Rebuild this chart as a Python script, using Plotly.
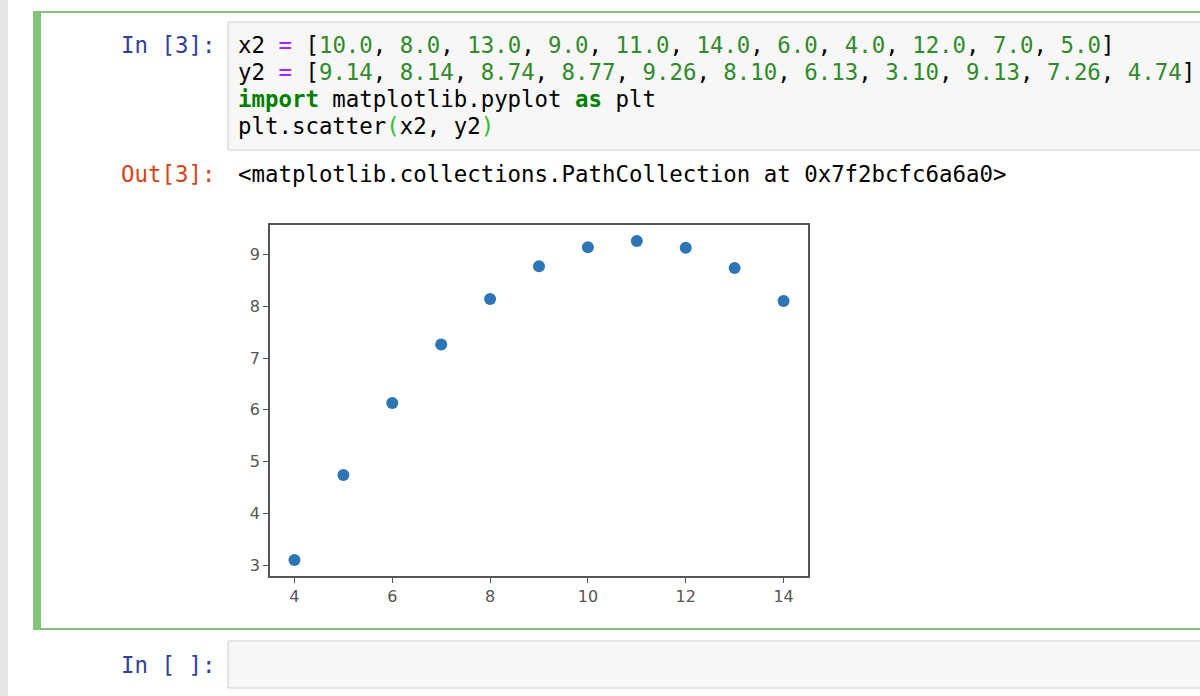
import plotly.graph_objects as go

# ---- data ----
x2 = [10.0, 8.0, 13.0, 9.0, 11.0, 14.0, 6.0, 4.0, 12.0, 7.0, 5.0]
y2 = [9.14, 8.14, 8.74, 8.77, 9.26, 8.10, 6.13, 3.10, 9.13, 7.26, 4.74]
x_ticks = [4, 6, 8, 10, 12, 14]
y_ticks = [3, 4, 5, 6, 7, 8, 9]
out_text = "&lt;matplotlib.collections.PathCollection at 0x7f2bcfc6a6a0&gt;"

W, H = 1200, 696


def px(x):
    return x / W


def py(y):
    return 1 - y / H


NUM = "#2f8a2a"
OP = "#AA22FF"
KW = "#008000"
BR = "#2fbf2f"
PROMPT_IN = "#303F9F"
PROMPT_OUT = "#D84315"
MONO = "DejaVu Sans Mono"
FS = 22.4


def num(v):
    return f'<span style="color:{NUM}">{v}</span>'


line1 = ('x2 <span style="color:%s">=</span> [' % OP
         + ", ".join(num(f"{v:.1f}") for v in x2) + "]")
line2 = ('y2 <span style="color:%s">=</span> [' % OP
         + ", ".join(num(f"{v:.2f}") for v in y2) + "]")
line3 = (f'<b><span style="color:{KW}">import</span></b> matplotlib.pyplot '
         f'<b><span style="color:{KW}">as</span></b> plt')
line4 = (f'plt.scatter<span style="color:{BR}">(</span>x2, y2'
         f'<span style="color:{BR}">)</span>')

fig = go.Figure(
    go.Scatter(
        x=x2, y=y2, mode="markers",
        marker=dict(color="#2e75b6", size=12, line=dict(width=0)),
        hoverinfo="x+y",
    )
)

shapes = []
# left gray strip
shapes.append(dict(type="rect", xref="paper", yref="paper", x0=px(0), x1=px(8),
                   y0=0, y1=1, fillcolor="#e6e6e6", line=dict(width=0), layer="below"))
# green cell border
GREEN = "#84c27a"
shapes.append(dict(type="rect", xref="paper", yref="paper", x0=px(34), x1=px(1215),
                   y0=py(629), y1=py(12), fillcolor="rgba(0,0,0,0)",
                   line=dict(color=GREEN, width=2), layer="below"))
shapes.append(dict(type="rect", xref="paper", yref="paper", x0=px(33), x1=px(41),
                   y0=py(630), y1=py(11), fillcolor=GREEN, line=dict(width=0), layer="below"))
# code input boxes
shapes.append(dict(type="rect", xref="paper", yref="paper", x0=px(228), x1=px(1215),
                   y0=py(150), y1=py(22), fillcolor="#f7f7f7",
                   line=dict(color="#cfcfcf", width=1), layer="below"))
shapes.append(dict(type="rect", xref="paper", yref="paper", x0=px(228), x1=px(1215),
                   y0=py(688), y1=py(641), fillcolor="#f7f7f7",
                   line=dict(color="#cfcfcf", width=1), layer="below"))

annotations = []


def txt(text, x, y, color="#000000", xanchor="left"):
    annotations.append(dict(text=text, x=px(x), y=py(y), xref="paper", yref="paper",
                            xanchor=xanchor, yanchor="middle", showarrow=False,
                            font=dict(family=MONO, size=FS, color=color)))


txt("In [3]:", 217, 45, PROMPT_IN, "right")
txt(line1, 236, 45)
txt(line2, 236, 72)
txt(line3, 236, 99)
txt(line4, 236, 126)
txt("Out[3]:", 217, 174, PROMPT_OUT, "right")
txt(out_text, 236, 174)
txt("In [ ]:", 217, 665, PROMPT_IN, "right")

axis_common = dict(
    showgrid=False, zeroline=False, showline=True, mirror=True,
    linecolor="#555555", linewidth=1.8,
    ticks="outside", ticklen=5, tickwidth=1.3, tickcolor="#555555",
    tickfont=dict(family="DejaVu Sans", size=16, color="#555555"),
)

fig.update_layout(
    width=W, height=H,
    margin=dict(l=0, r=0, t=0, b=0),
    paper_bgcolor="white", plot_bgcolor="white",
    showlegend=False,
    xaxis=dict(domain=[px(270), px(808)], range=[3.5, 14.5],
               tickvals=x_ticks, **axis_common),
    yaxis=dict(domain=[py(576), py(225)], range=[2.792, 9.568],
               tickvals=y_ticks, **axis_common),
    shapes=shapes,
    annotations=annotations,
)

fig.write_html("out.html",
               config={"displayModeBar": False},
               post_script="document.body.style.margin='0';document.body.style.overflow='hidden';")
